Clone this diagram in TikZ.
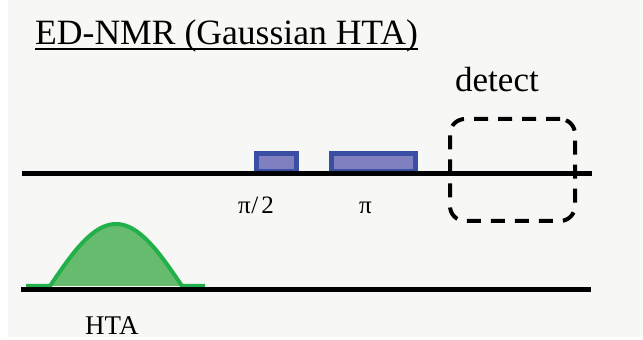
\documentclass[tikz,border=0pt]{standalone}
\usepackage{fontspec}
\setmainfont{Liberation Serif}
\definecolor{bggray}{HTML}{F7F7F5}
\definecolor{pulseedge}{HTML}{3A4FA3}
\definecolor{pulsefill}{HTML}{8080C0}
\definecolor{gaussedge}{HTML}{22B04A}
\definecolor{gaussfill}{HTML}{66BB6E}
\begin{document}
\begin{tikzpicture}[x=1pt,y=1pt,
  axisline/.style={line width=5pt, black},
  pulsebox/.style={draw=pulseedge, fill=pulsefill, line width=5pt, inner sep=0pt, minimum height=18.5pt},
  detectbox/.style={draw=black, line width=4pt, dash pattern=on 14pt off 10pt, rounded corners=15pt, inner sep=0pt, minimum width=125pt, minimum height=102pt},
  lbl/.style={inner sep=0pt, anchor=base west}]
\useasboundingbox (0,0) rectangle (643,340);
\fill[bggray] (8,3) rectangle (643,340);

% title
\node[lbl, font=\fontsize{35.6}{40}\selectfont] (title) at (35,295) {ED-NMR (Gaussian HTA)};
\draw[line width=2pt] ([yshift=-4pt]title.base west) -- ([yshift=-4pt]title.base east);

% pulses
\node[pulsebox, minimum width=40pt] (p1) at (276.5,177.25) {};
\node[pulsebox, minimum width=84pt] (p2) at (373.5,177.25) {};

% gaussian HTA pulse
\filldraw[draw=gaussedge, fill=gaussfill, line width=4pt, line join=round]
  (26,54) -- (50,54) -- plot[domain=-66:66, samples=60, smooth] ({116+\x},{54+62*cos(90*\x/66)}) -- (205,54);

% axis lines
\coordinate (l1a) at (22,166);
\coordinate (l1b) at (592,166);
\coordinate (l2a) at (21,50);
\coordinate (l2b) at (591,50);
\draw[axisline] (l1a) -- (l1b);
\draw[axisline] (l2a) -- (l2b);

% detect window
\node[detectbox] (det) at (512.5,170) {};
\node[lbl, font=\fontsize{35}{40}\selectfont] (detlbl) at (455,248) {detect};

% labels
\node[lbl, font=\fontsize{25}{28}\selectfont] (l90) at (238,126) {π\kern0.5pt/\kern3pt2};
\node[lbl, font=\fontsize{25}{28}\selectfont] (l180) at (359,126) {π};
\node[lbl, font=\fontsize{27}{30}\selectfont] (hta) at (85,5) {HTA};
\end{tikzpicture}
\end{document}
